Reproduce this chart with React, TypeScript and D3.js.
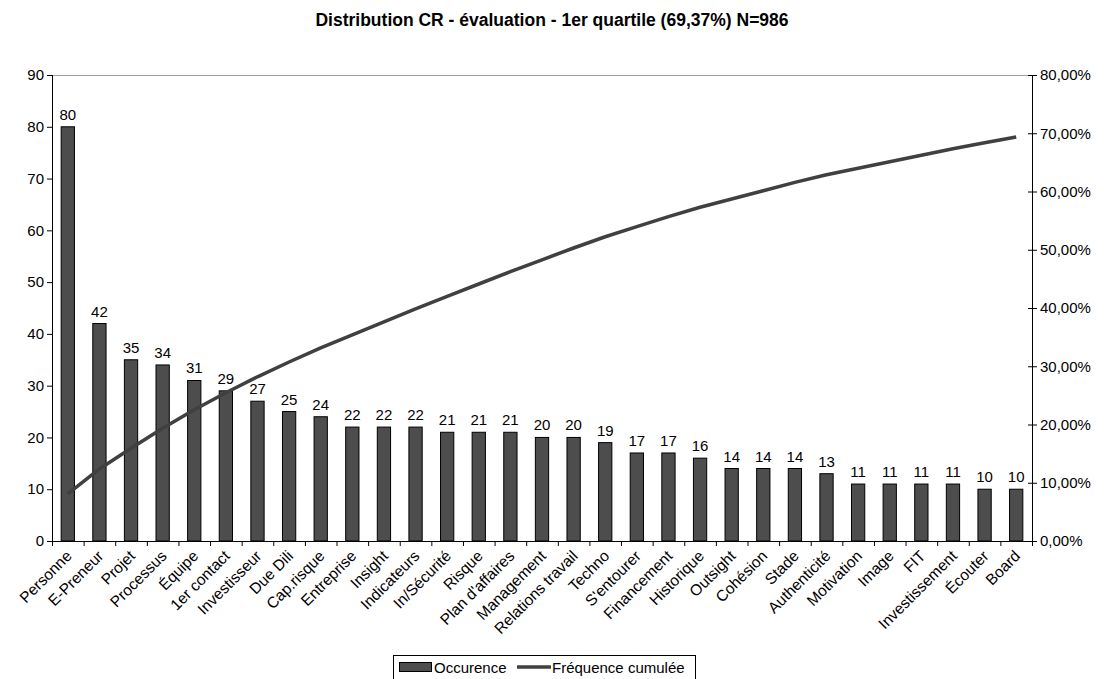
import React from "react";
import * as d3 from "d3";

const categories = [
  "Personne", "E-Preneur", "Projet", "Processus", "Équipe", "1er contact", "Investisseur",
  "Due Dili", "Cap.risque", "Entreprise", "Insight", "Indicateurs", "In/Sécurité", "Risque",
  "Plan d'affaires", "Management", "Relations travail", "Techno", "S'entourer", "Financement",
  "Historique", "Outsight", "Cohésion", "Stade", "Authenticité", "Motivation", "Image", "FIT",
  "Investissement", "Écouter", "Board",
];
const occurrences = [
  80, 42, 35, 34, 31, 29, 27, 25, 24, 22, 22, 22, 21, 21, 21, 20, 20, 19, 17, 17, 16, 14, 14, 14,
  13, 11, 11, 11, 11, 10, 10,
];
// Fréquence cumulée (fraction of N=986)
const cumulative = [
  0.0811, 0.1237, 0.1592, 0.1937, 0.2252, 0.2546, 0.2819, 0.3073, 0.3316, 0.3540, 0.3763,
  0.3986, 0.4199, 0.4412, 0.4625, 0.4828, 0.5030, 0.5223, 0.5396, 0.5568, 0.5730, 0.5872,
  0.6014, 0.6156, 0.6288, 0.6400, 0.6511, 0.6623, 0.6734, 0.6836, 0.6937,
];
const leftTicks = [0, 10, 20, 30, 40, 50, 60, 70, 80, 90];
const rightTicks = [0, 0.1, 0.2, 0.3, 0.4, 0.5, 0.6, 0.7, 0.8];
const rightTickLabels = ["0,00%", "10,00%", "20,00%", "30,00%", "40,00%", "50,00%", "60,00%", "70,00%", "80,00%"];
const title = "Distribution CR - évaluation - 1er quartile (69,37%) N=986";

const W = 1104, H = 679;
const L = 52, R = 1032, T = 75, B = 541;
const FONT = "'Liberation Sans', Arial, sans-serif";
const FS = 15;

export default function App() {
  const x = d3.scaleBand<string>().domain(categories).range([L, R]).paddingInner(0.58).paddingOuter(0.29);
  const yL = d3.scaleLinear().domain([0, 90]).range([B, T]);
  const yR = d3.scaleLinear().domain([0, 0.8]).range([B, T]);
  const step = x.step();
  const bw = x.bandwidth();
  const cx = (c: string) => (x(c) as number) + bw / 2;
  const line = d3.line<number>()
    .x((_, i) => cx(categories[i]))
    .y((d) => yR(d));
  const boundaries = categories.map((c) => cx(c) - step / 2).concat([R]);

  return (
    <svg width={W} height={H} style={{ position: "absolute", left: 0, top: 0, background: "#fff" }} fontFamily={FONT}>
      <rect x={0} y={0} width={W} height={H} fill="#fff" />
      <text x={552} y={26} textAnchor="middle" fontSize={17.5} fontWeight="bold" fill="#000">{title}</text>

      {/* plot top border */}
      <line x1={L} x2={R} y1={T + 0.5} y2={T + 0.5} stroke="#a0a0a0" strokeWidth={1} />

      {/* bars */}
      {occurrences.map((v, i) => (
        <rect key={i} x={x(categories[i])} y={yL(v)} width={bw} height={B - yL(v)}
          fill="#4d4d4d" stroke="#000" strokeWidth={1} />
      ))}
      {occurrences.map((v, i) => (
        <text key={"l" + i} x={cx(categories[i])} y={yL(v) - 7} textAnchor="middle" fontSize={FS} fill="#000">{v}</text>
      ))}

      {/* cumulative line */}
      <path d={line(cumulative) || ""} fill="none" stroke="#404040" strokeWidth={3.5} strokeLinejoin="round" />

      {/* left axis */}
      <line x1={L + 0.5} x2={L + 0.5} y1={T} y2={B} stroke="#000" />
      {leftTicks.map((t) => (
        <g key={t}>
          <line x1={L - 5} x2={L} y1={yL(t) + 0.5} y2={yL(t) + 0.5} stroke="#000" />
          <text x={L - 8} y={yL(t)} dy="0.35em" textAnchor="end" fontSize={FS} fill="#000">{t}</text>
        </g>
      ))}

      {/* right axis */}
      <line x1={R + 0.5} x2={R + 0.5} y1={T} y2={B} stroke="#000" />
      {rightTicks.map((t, i) => (
        <g key={t}>
          <line x1={R - 4} x2={R + 5} y1={yR(t) + 0.5} y2={yR(t) + 0.5} stroke="#000" />
          <text x={R + 8} y={yR(t)} dy="0.35em" textAnchor="start" fontSize={FS} fill="#000">{rightTickLabels[i]}</text>
        </g>
      ))}

      {/* x axis */}
      <line x1={L} x2={R + 1} y1={B + 0.5} y2={B + 0.5} stroke="#000" />
      {boundaries.map((b, i) => (
        <line key={"t" + i} x1={b + 0.5} x2={b + 0.5} y1={B} y2={B + 5} stroke="#000" />
      ))}
      {categories.map((c) => (
        <text key={"x" + c} transform={`translate(${cx(c) + 5},${B + 16}) rotate(-45)`} textAnchor="end"
          fontSize={15.5} fill="#000">{c}</text>
      ))}

      {/* legend */}
      <rect x={393.5} y={655.5} width={302} height={30} fill="#fff" stroke="#000" />
      <rect x={399.5} y={662.5} width={32} height={9} fill="#4d4d4d" stroke="#000" />
      <text x={434} y={673} fontSize={FS} fill="#000">Occurence</text>
      <line x1={517} x2={551} y1={667} y2={667} stroke="#404040" strokeWidth={3.5} />
      <text x={552} y={673} fontSize={FS} fill="#000">Fréquence cumulée</text>
    </svg>
  );
}
